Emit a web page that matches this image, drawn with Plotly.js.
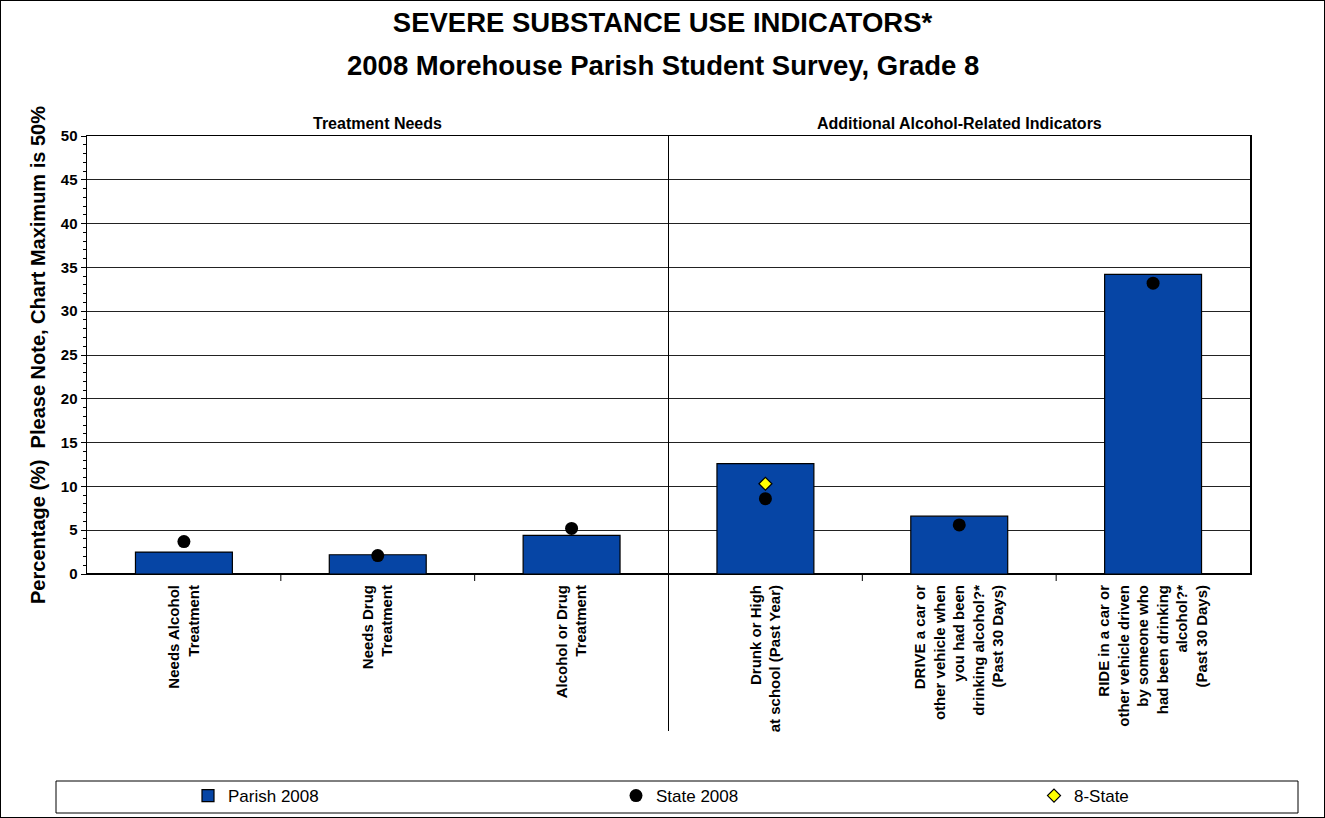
<!DOCTYPE html>
<html>
<head>
<meta charset="utf-8">
<script src="https://cdn.plot.ly/plotly-3.0.1.min.js"></script>
<style>
  html, body { margin: 0; padding: 0; background: #fff; }
  #chart { width: 1323px; height: 816px; border: 1px solid #000; }
</style>
</head>
<body>
<div id="chart"></div>
<script>
const categories = [
  "Needs Alcohol<br>Treatment",
  "Needs Drug<br>Treatment",
  "Alcohol or Drug<br>Treatment",
  "Drunk or High<br>at school (Past Year)",
  "DRIVE a car or<br>other vehicle when<br>you had been<br>drinking alcohol?*<br>(Past 30 Days)",
  "RIDE in a car or<br>other vehicle driven<br>by someone who<br>had been drinking<br>alcohol?*<br>(Past 30 Days)"
];
const parish2008 = [2.5, 2.2, 4.4, 12.6, 6.6, 34.2];
const state2008 = [3.7, 2.1, 5.2, 8.6, 5.6, 33.2];
const eightState = [null, null, null, 10.3, null, null];
const seriesNames = ["Parish 2008", "State 2008", "8-State"];
const sectionLabels = ["Treatment Needs", "Additional Alcohol-Related Indicators"];
const sectionCenters = [1, 4];
const titleLine1 = "SEVERE SUBSTANCE USE INDICATORS*";
const titleLine2 = "2008 Morehouse Parish Student Survey, Grade 8";
const yTitle = "Percentage (%)  Please Note, Chart Maximum is 50%";

const FONT = "Arial, 'Liberation Sans', sans-serif";
const xIdx = categories.map((_, i) => i);

const traces = [
  {
    type: "bar", name: seriesNames[0], x: xIdx, y: parish2008, legend: "legend",
    marker: { color: "#0645A5", line: { color: "#000", width: 1.2 } }
  },
  {
    type: "scatter", mode: "markers", name: seriesNames[1], x: xIdx, y: state2008, legend: "legend2",
    marker: { color: "#000", size: 13, symbol: "circle" }
  },
  {
    type: "scatter", mode: "markers", name: seriesNames[2], x: xIdx, y: eightState, legend: "legend3",
    marker: { color: "#FFFF00", size: 10, symbol: "diamond", line: { color: "#000", width: 1.2 } }
  }
];

const W = 1323, H = 816;
const L = 86, R = 74, T = 135, B = 243;
const plotH = H - T - B, plotW = W - L - R;
const py = p => (H - B - p) / plotH;   // page y -> paper y
const px = p => (p - L) / plotW;       // page x -> paper x

const annotations = sectionLabels.map((t, i) => ({
  text: "<b>" + t + "</b>", x: sectionCenters[i], xref: "x",
  y: py(123), yref: "paper", showarrow: false,
  font: { family: FONT, size: 16, color: "#000" }, yanchor: "middle"
}));
annotations.push({
  text: "<b>" + titleLine2 + "</b>", x: px(661.5), xref: "paper",
  y: py(65), yref: "paper", showarrow: false, xanchor: "center", yanchor: "middle",
  font: { family: FONT, size: 27.5, color: "#000" }
});

function legendAt(symX) {
  return {
    orientation: "h", xref: "paper", yref: "paper",
    x: px(symX - 26), xanchor: "left", y: py(795), yanchor: "middle",
    font: { family: FONT, size: 17, color: "#000" },
    bgcolor: "rgba(0,0,0,0)", borderwidth: 0
  };
}

const layout = {
  width: W, height: H,
  margin: { l: L, r: R, t: T, b: B, autoexpand: false },
  paper_bgcolor: "#fff", plot_bgcolor: "#fff",
  font: { family: FONT, color: "#000" },
  title: {
    text: "<b>" + titleLine1 + "</b>", xref: "container", x: 0.5, xanchor: "center",
    yref: "container", y: 1 - 21 / H, yanchor: "middle",
    font: { family: FONT, size: 27.5, color: "#000" }
  },
  bargap: 0.5,
  showlegend: true,
  legend: legendAt(213),
  legend2: legendAt(641),
  legend3: legendAt(1059),
  xaxis: {
    type: "linear", range: [-0.5, 5.5], tickmode: "array",
    tickvals: xIdx, ticktext: categories, automargin: false,
    tickangle: -90, tickfont: { family: FONT, size: 15, color: "#000", weight: "bold" },
    ticklabelstandoff: 4,
    showgrid: false, zeroline: false,
    showline: true, linecolor: "#000", linewidth: 1, mirror: true,
    ticks: "", fixedrange: true
  },
  yaxis: {
    range: [0, 50], dtick: 5, tick0: 0, automargin: false,
    tickfont: { family: FONT, size: 15, color: "#000", weight: "bold" },
    ticks: "outside", ticklen: 5, tickcolor: "#000", tickwidth: 1,
    minor: { dtick: 1, ticks: "outside", ticklen: 3, tickcolor: "#000", showgrid: false },
    showgrid: true, gridcolor: "#222", gridwidth: 1,
    zeroline: true, zerolinecolor: "#000", zerolinewidth: 2.5,
    showline: true, linecolor: "#000", linewidth: 1.5, mirror: true,
    title: { text: "<b>" + yTitle + "</b>", font: { family: FONT, size: 20, color: "#000" }, standoff: 10 },
    fixedrange: true
  },
  shapes: [
    ...[0.5, 1.5, 3.5, 4.5].map(b => ({
      type: "line", xref: "x", yref: "paper", x0: b, x1: b, y0: 0, y1: py(580),
      line: { color: "#000", width: 1 }
    })),
    { type: "line", xref: "x", yref: "paper", x0: 2.5, x1: 2.5, y0: py(730), y1: 1,
      line: { color: "#000", width: 1 } },
    { type: "rect", xref: "paper", yref: "paper",
      x0: px(55), x1: px(1297), y0: py(812), y1: py(780),
      line: { color: "#000", width: 1 }, fillcolor: "rgba(0,0,0,0)" }
  ],
  annotations: annotations
};

Plotly.newPlot("chart", traces, layout, { displayModeBar: false, staticPlot: true });
</script>
</body>
</html>
